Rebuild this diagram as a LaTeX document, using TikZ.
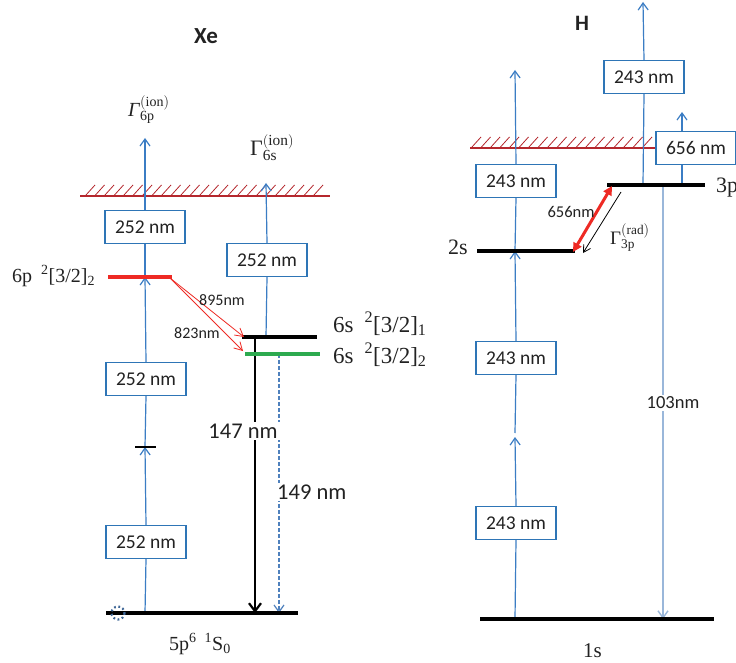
\documentclass[tikz,border=0pt]{standalone}
\usepackage{fontspec}
\setmainfont{Liberation Serif}
\newfontfamily\calfont{Carlito}
\usetikzlibrary{arrows.meta}
\definecolor{lineblue}{HTML}{3B7DC4}
\definecolor{boxblue}{HTML}{2E75B6}
\definecolor{paleblue}{HTML}{9AB7DA}
\definecolor{dashblue}{HTML}{4F81BD}
\definecolor{levred}{HTML}{EE2A24}
\definecolor{hatchred}{HTML}{B5272D}
\definecolor{levgreen}{HTML}{2DAA4F}
\definecolor{txt}{HTML}{222222}
\tikzset{
  box/.style={draw=boxblue, line width=1.1pt, fill=white, minimum width=80pt, minimum height=33pt, inner sep=0pt, text=txt, font=\calfont\fontsize{19.5}{21}\selectfont},
  bl/.style={draw=lineblue, line width=1.2pt},
  barb/.style={-{Straight Barb[length=7pt,width=10pt]}},
  level/.style={line width=4pt},
  hatch/.style={draw=hatchred, line width=0.8pt},
  hatchline/.style={draw=hatchred, line width=2.5pt},
  serif/.style={text=txt, inner sep=0pt, font=\fontsize{20}{24}\selectfont},
  gam/.style={text=txt, inner sep=0pt, font=\fontsize{20}{22}\selectfont},
  sans/.style={text=txt, inner sep=1pt, font=\calfont\fontsize{16}{18}\selectfont},
  bigsans/.style={text=txt, inner sep=2pt, fill=white, font=\calfont\fontsize{22.5}{24}\selectfont},
  title/.style={text=txt, font=\calfont\bfseries\fontsize{23}{25}\selectfont}
}
\begin{document}
\begin{tikzpicture}[x=1pt,y=-1pt]
\path[use as bounding box, fill=white] (0,0) rectangle (736,663);

% ================= Xe =================
\node[title] (xe) at (206,36) {Xe};
\node[gam, anchor=base west] (gam6p) at (128,117) {\textit{Γ}$^{\mathrm{(ion)}}_{\mathrm{6p}}$};
\node[gam, anchor=base west, font=\fontsize{22}{24}\selectfont] (gam6s) at (250,156) {Γ$^{\mathrm{(ion)}}_{\mathrm{6s}}$};

% ionisation limit
\foreach \x in {86,95.5,...,322} \draw[hatch] (\x,195) -- ++(9,-10);
\draw[hatchline] (80,196) -- (330,196);

% levels
\coordinate (p6a) at (108,277); \coordinate (p6b) at (172,277);
\coordinate (s1a) at (242,337); \coordinate (s1b) at (317,337);
\coordinate (s2a) at (245,354); \coordinate (s2b) at (320,354);
\coordinate (ga) at (106,613); \coordinate (gb) at (298,613);
\coordinate (va) at (135,447); \coordinate (vb) at (156,447);

% left column
\coordinate (tipA) at (145,138);
\coordinate (l6p) at (145,277);
\coordinate (virt) at (145,447);
\coordinate (g1) at (145,613);
\node[box] (bA) at (145,227) {252 nm};
\node[box] (bB) at (146,379) {252 nm};
\node[box] (bC) at (146,542) {252 nm};
\draw[bl,barb] (bA.north) -- (tipA);
\draw[bl] (l6p) -- (bA.south);
\draw[bl,barb] (bB.north) -- (l6p);
\draw[bl] (virt) -- (bB.south);
\draw[bl,barb] (bC.north) -- (virt);
\draw[bl] (g1) -- (bC.south);

% right column
\coordinate (tipB) at (266,183);
\coordinate (l6s) at (266,337);
\node[box] (bD) at (267,260) {252 nm};
\draw[bl,barb] (bD.north) -- (tipB);
\draw[bl] (l6s) -- (bD.south);

% 147 nm and 149 nm
\coordinate (d147a) at (255,337); \coordinate (d147b) at (255,613);
\coordinate (d149a) at (279,354); \coordinate (d149b) at (279,613);
\draw[line width=2.2pt, -{Straight Barb[length=8pt,width=12pt]}] (d147a) -- (d147b);
\draw[draw=dashblue, line width=1.2pt, dash pattern=on 4pt off 2pt, -{Straight Barb[length=7pt,width=10pt]}] (d149a) -- (d149b);
\node[bigsans] (n147) at (243,431) {147 nm};
\node[bigsans, anchor=west] (n149) at (275,492) {149 nm};

% levels drawn
\draw[level, levred] (p6a) -- (p6b);
\draw[level] (s1a) -- (s1b);
\draw[level, levgreen] (s2a) -- (s2b);
\draw[level] (ga) -- (gb);
\draw[line width=2.5pt] (va) -- (vb);
\draw[draw=dashblue!80!black, line width=2.2pt, dash pattern=on 1.8pt off 2.6pt] (118,613) circle (6.5);

% red transitions
\coordinate (rs) at (170,278);
\coordinate (re1) at (244,337);
\coordinate (re2) at (243,351);
\draw[draw=levred, line width=0.8pt, -{Straight Barb[length=8pt,width=9pt]}] (rs) -- (re1);
\draw[draw=levred, line width=0.8pt, -{Straight Barb[length=8pt,width=9pt]}] (rs) -- (re2);
\node[sans] (n895) at (222,300) {895nm};
\node[sans] (n823) at (197,333) {823nm};

% labels
\node[serif, anchor=base west] (lab6p) at (12,282) {6p\hspace{9pt}\textsuperscript{2}[3/2]\textsubscript{2}};
\node[serif, anchor=base west, font=\fontsize{23}{26}\selectfont] (lab6s1) at (333,332) {6s\hspace{11pt}\textsuperscript{2}[3/2]\textsubscript{1}};
\node[serif, anchor=base west, font=\fontsize{23}{26}\selectfont] (lab6s2) at (333,363) {6s\hspace{11pt}\textsuperscript{2}[3/2]\textsubscript{2}};
\node[serif, anchor=base west] (lab5p) at (169,650) {5p\textsuperscript{6}\hspace{8pt}\textsuperscript{1}S\textsubscript{0}};

% ================= H =================
\node[title, font=\calfont\bfseries\fontsize{22}{24}\selectfont] (hh) at (582,23) {H};

\foreach \x in {472,481.5,...,648} \draw[hatch] (\x,147) -- ++(9,-10);
\draw[hatchline] (470,148) -- (656,148);

\coordinate (h2a) at (477,251); \coordinate (h2b) at (575,251);
\coordinate (h3a) at (607,185); \coordinate (h3b) at (705,185);
\coordinate (h1a) at (480,619); \coordinate (h1b) at (714,619);

% left column
\coordinate (tipH) at (515,70);
\coordinate (l2s) at (515,251);
\coordinate (hv1) at (515,433);
\coordinate (hv2) at (515,437);
\coordinate (g2) at (515,619);
\node[box] (hA) at (516,181) {243 nm};
\node[box] (hB) at (516,358) {243 nm};
\node[box] (hC) at (516,523) {243 nm};
\draw[bl,barb] (hA.north) -- (tipH);
\draw[bl] (l2s) -- (hA.south);
\draw[bl,barb] (hB.north) -- (l2s);
\draw[bl] (hv1) -- (hB.south);
\draw[bl,barb] (hC.north) -- (hv2);
\draw[bl] (g2) -- (hC.south);

% middle column
\coordinate (tipM) at (643,2);
\coordinate (l3p) at (643,185);
\node[box] (hD) at (644,77) {243 nm};
\draw[bl,barb] (hD.north) -- (tipM);
\draw[bl] (l3p) -- (hD.south);

% 656 nm photoionisation
\coordinate (l3pb) at (682,185);
\coordinate (tipR) at (682,112);
\draw[bl,barb] (l3pb) -- (tipR);
\node[box] (hE) at (696,148) {656 nm};

% 103 nm
\coordinate (d103a) at (663,185); \coordinate (d103b) at (663,619);
\draw[draw=paleblue, line width=1.4pt, -{Straight Barb[length=7pt,width=10pt]}] (d103a) -- (d103b);
\node[sans, fill=white, inner sep=2pt, font=\calfont\fontsize{18.5}{20}\selectfont] (n103) at (673,403) {103nm};

% levels
\draw[level] (h2a) -- (h2b);
\draw[level] (h3a) -- (h3b);
\draw[level] (h1a) -- (h1b);

% 656 nm coupling and decay
\coordinate (c1) at (573,252);
\coordinate (c2) at (612,186);
\draw[draw=levred, line width=3pt, {Triangle[length=9pt,width=9pt]}-{Triangle[length=9pt,width=9pt]}] (c1) -- (c2);
\coordinate (r1) at (621,192);
\coordinate (r2) at (583,253);
\draw[line width=0.8pt, -{Straight Barb[length=7pt,width=8pt]}] (r1) -- (r2);
\node[sans, font=\calfont\fontsize{16.5}{18}\selectfont] (n656) at (571,212) {656nm};
\node[gam, anchor=base west, font=\fontsize{19}{22}\selectfont] (gam3p) at (610,244) {Γ$^{\mathrm{(rad)}}_{\mathrm{3p}}$};

\node[serif, anchor=base west, font=\fontsize{22}{24}\selectfont] (lab2s) at (448,254) {2s};
\node[serif, anchor=base west, font=\fontsize{22}{24}\selectfont] (lab3p) at (716,193) {3p};
\node[serif, anchor=base west, font=\fontsize{21}{24}\selectfont] (lab1s) at (583,657) {1s};
\end{tikzpicture}
\end{document}
